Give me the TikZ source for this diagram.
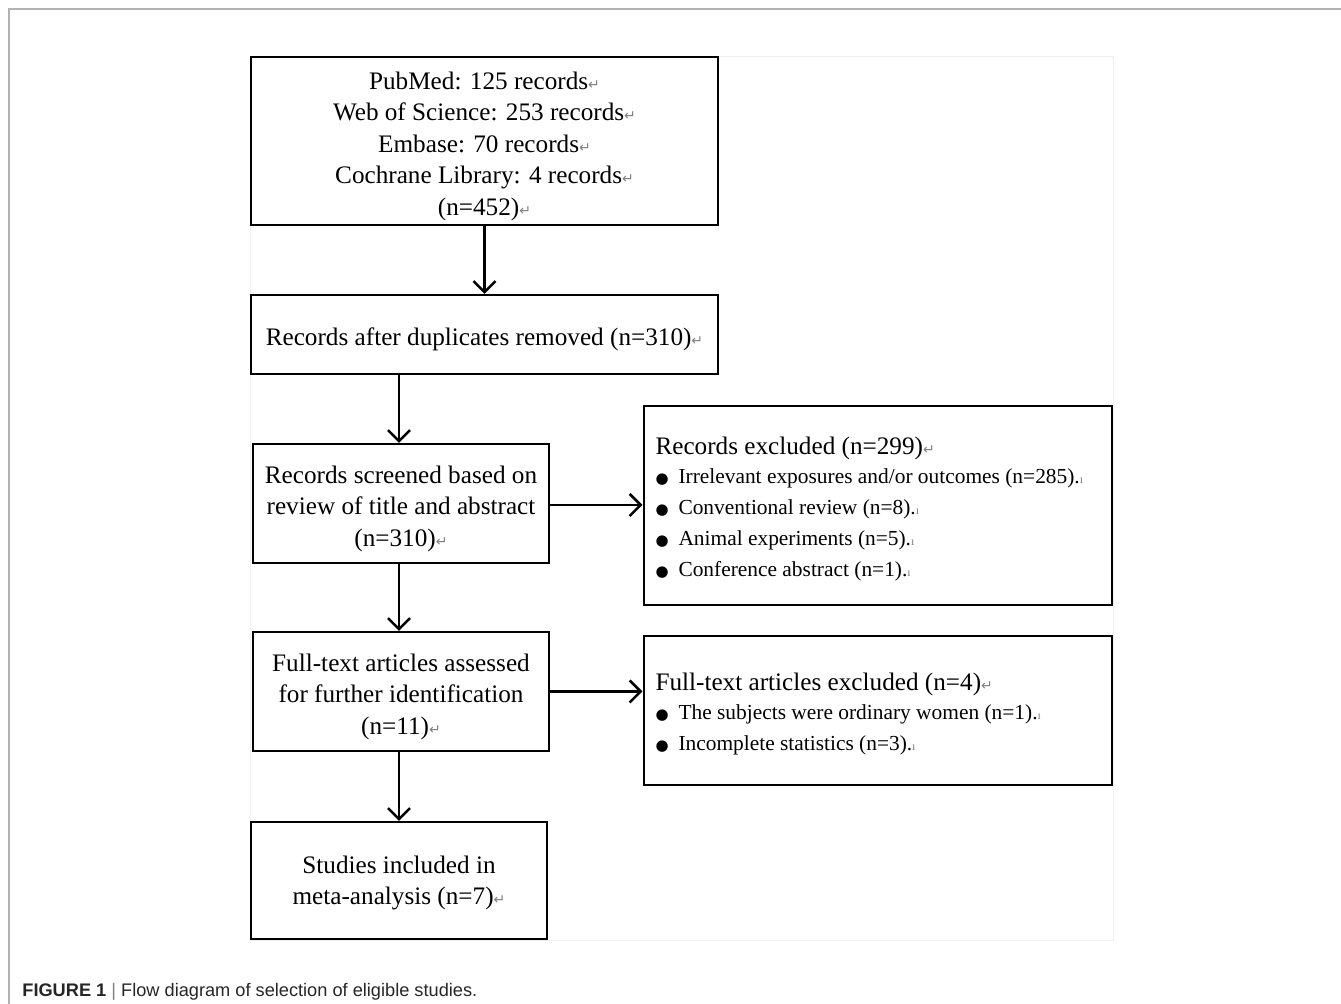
\documentclass[tikz,border=0pt]{standalone}
\usepackage{fontspec}
\setmainfont{Liberation Serif}
\newfontfamily\captionfont{Liberation Sans}
\newfontfamily\symbolfont{DejaVu Sans}
\usetikzlibrary{positioning,arrows.meta}
\newcommand{\retmark}{{\symbolfont\color{gray}\fontsize{7}{7}\selectfont ↵}}
\newcommand{\dotmark}{{\color{gray}\fontsize{6}{6}\selectfont ı}}
\newcommand{\itm}{\makebox[11.5pt][l]{\symbolfont\fontsize{7.5}{7.5}\selectfont ●}}
\newcommand{\tstrut}{\rule{0pt}{14pt}}

\begin{document}
\begin{tikzpicture}[x=0.5pt,y=-0.5pt,font=\fontsize{12.6}{15.75}\selectfont]
  \tikzstyle{box}=[draw,line width=1pt,align=center,inner sep=0pt]
  \tikzstyle{listbox}=[draw,line width=1pt,align=flush left,text width=222pt,inner xsep=6pt,inner ysep=0pt,
    font=\fontsize{10.7}{15.5}\selectfont]
  \tikzstyle{arr}=[-{Straight Barb[length=5.5pt,width=11pt]},line width=1.3pt]
  \useasboundingbox (0,0) rectangle (1341,1004);
  \draw[gray!60,line width=0.8pt] (9,1004) -- (9,9) -- (1341,9);
  \draw[gray!12] (250,56) rectangle (1113,940);

  % main column
  \node[box,minimum width=233.5pt,minimum height=84pt] (src) at (484.5,141)
    {\tstrut PubMed: 125 records\retmark\\ Web of Science: 253 records\retmark\\
     Embase: 70 records\retmark\\ Cochrane Library: 4 records\retmark\\ (n=452)\retmark};
  \node[box,minimum width=233.5pt,minimum height=39.5pt] (dup) at (484.5,334.5)
    {\tstrut Records after duplicates removed (n=310)\retmark};
  \node[box,minimum width=148pt,minimum height=59.5pt] (screen) at (401,503.5)
    {\tstrut Records screened based on\\ review of title and abstract\\ (n=310)\retmark};
  \node[box,minimum width=148pt,minimum height=59.5pt] (full) at (401,691.5)
    {\tstrut Full-text articles assessed\\ for further identification\\ (n=11)\retmark};
  \node[box,minimum width=148pt,minimum height=58.5pt] (incl) at (399,880.5)
    {\rule{0pt}{11pt}Studies included in\\ meta-analysis (n=7)\retmark};

  % exclusions
  \node[listbox,minimum height=99.5pt] (excl1) at (877.5,505.5)
    {{\fontsize{12.6}{14.5}\selectfont\rule{0pt}{12pt}Records excluded (n=299)\retmark}\\[-1pt]
     \itm Irrelevant exposures and/or outcomes (n=285).\dotmark\\
     \itm Conventional review (n=8).\dotmark\\
     \itm Animal experiments (n=5).\dotmark\\
     \itm Conference abstract (n=1).\dotmark};
  \node[listbox,minimum height=74.5pt] (excl2) at (877.5,710.5)
    {{\fontsize{12.6}{14.5}\selectfont\rule{0pt}{12pt}Full-text articles excluded (n=4)\retmark}\\[-1pt]
     \itm The subjects were ordinary women (n=1).\dotmark\\
     \itm Incomplete statistics (n=3).\dotmark};

  \draw[arr] (src) -- (dup);
  \draw[arr] (dup.south -| incl.north) -- (screen.north -| incl.north);
  \draw[arr] (screen.south -| incl.north) -- (full.north -| incl.north);
  \draw[arr] (full.south -| incl.north) -- (incl.north);
  \draw[arr] (screen.east) ++(0,1.5) coordinate (s1) (s1) -- (s1 -| excl1.west);
  \draw[arr] (full.east) -- (full.east -| excl2.west);

  \node[anchor=base west,inner sep=0pt,font=\captionfont\fontsize{9.1}{9.1}\selectfont,text=black!85] (cap) at (22,997)
    {\textbf{FIGURE 1} {\color{gray}|} Flow diagram of selection of eligible studies.};
\end{tikzpicture}
\end{document}
